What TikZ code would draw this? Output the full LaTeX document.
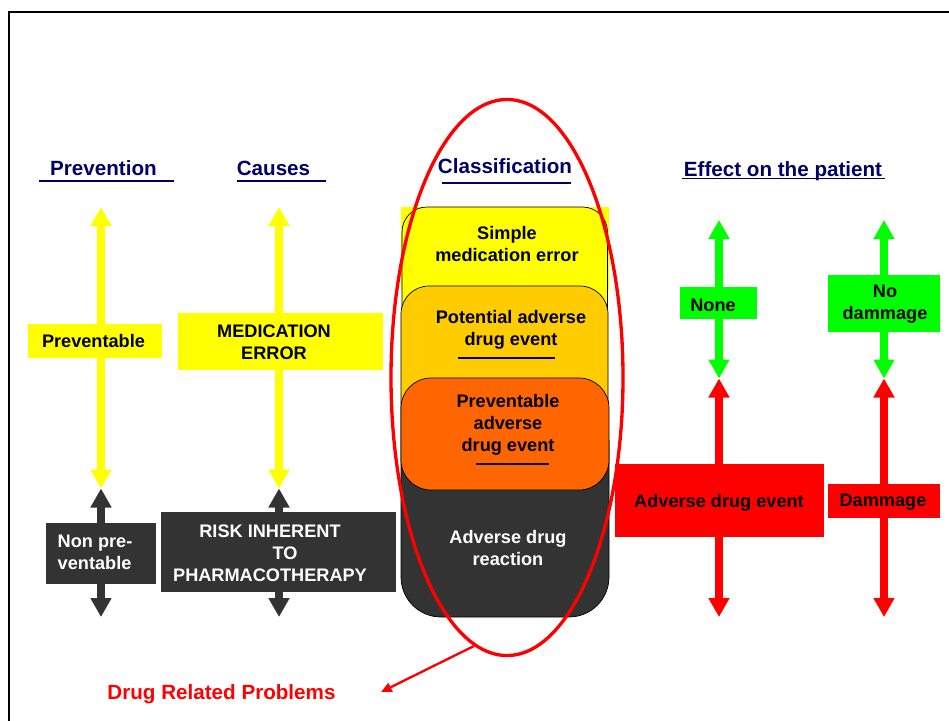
\documentclass[tikz,border=0pt]{standalone}
\usepackage{fontspec}
\setmainfont{Liberation Sans}
\usetikzlibrary{arrows.meta,shapes.geometric}
\definecolor{navy}{RGB}{0,0,102}
\definecolor{drpyellow}{RGB}{255,255,0}
\definecolor{drpgold}{RGB}{255,204,0}
\definecolor{drporange}{RGB}{255,102,0}
\definecolor{drpdark}{RGB}{51,51,51}
\definecolor{drpgreen}{RGB}{0,255,0}
\definecolor{drpred}{RGB}{255,0,0}

\begin{document}
\begin{tikzpicture}[x=0.03cm,y=-0.03cm]
\tikzset{
  body/.style={font=\bfseries\fontsize{15.5}{18.7}\selectfont, inner sep=0pt, align=center},
  header/.style={font=\bfseries\fontsize{17.6}{21}\selectfont, text=navy, inner sep=0pt, anchor=base},
  hbar/.style={draw=navy, line width=0.075cm},
  panel/.style={inner sep=0pt, outer sep=0pt, draw=none},
  dbl/.style={line width=0.24cm, arrows={Triangle[width=6mm,length=5.7mm]-Triangle[width=6mm,length=5.7mm]}},
  stackline/.style={draw=black, line width=0.6pt},
}
\useasboundingbox (0,0) rectangle (949,720);
\clip (0,0) rectangle (949,720);

% page frame
\draw[line width=0.06cm] (9.3,760) -- (9.3,12.3) -- (990,12.3);

% column headers
\node[header] (hPrev) at (103.5,175.5) {Prevention};
\draw[hbar] (39,181) -- (174,181);
\node[header] (hCause) at (273.5,175) {Causes};
\draw[hbar] (237,181) -- (326,181);
\node[header] (hClass) at (505,173.5) {Classification};
\draw[hbar] (442,183) -- (571,183);
\node[header] (hEff) at (783,176) {Effect on the patient};
\draw[navy, line width=0.04cm] (682,178.8) -- (885,178.8);

% arrow end points
\coordinate (pvTop) at (101,207);
\coordinate (pvMid) at (101,488.5);
\coordinate (pvBot) at (101,617);
\coordinate (caTop) at (279,207);
\coordinate (caMid) at (279,488.5);
\coordinate (caBot) at (279,617);
\coordinate (ntTop) at (719,220);
\coordinate (ntMid) at (719,378.5);
\coordinate (ntBot) at (719,617);
\coordinate (ndTop) at (884,220);
\coordinate (ndMid) at (884,378.5);
\coordinate (ndBot) at (884,617);

% double arrows
\draw[dbl, drpyellow] (pvTop) -- (pvMid);
\draw[dbl, drpdark] (pvMid) -- (pvBot);
\draw[dbl, drpyellow] (caTop) -- (caMid);
\draw[dbl, drpdark] (caMid) -- (caBot);
\draw[dbl, drpgreen] (ntTop) -- (ntMid);
\draw[dbl, drpred] (ntMid) -- (ntBot);
\draw[dbl, drpgreen] (ndTop) -- (ndMid);
\draw[dbl, drpred] (ndMid) -- (ndBot);

% label panels on the arrows
\node[panel, fill=drpyellow, minimum width=4.02cm, minimum height=1.02cm] (prevBox) at (95,341) {};
\node[body] (prevTxt) at (93.5,341.5) {Preventable};
\node[panel, fill=drpyellow, minimum width=6.15cm, minimum height=1.71cm] (medBox) at (280.5,341.5) {};
\node[body] (medTxt) at (274,342) {MEDICATION\\ERROR};
\node[panel, fill=drpdark, minimum width=3.3cm, minimum height=1.83cm] (nonBox) at (101,553.5) {};
\node[body, align=left, anchor=west, text=white] (nonTxt) at (57.5,552.5) {Non pre-\\ventable};
\node[panel, fill=drpdark, minimum width=7.05cm, minimum height=2.4cm] (riskBox) at (278.5,552) {};
\node[body, text=white] (riskTxt) at (270,553) {RISK INHERENT\\\hspace*{0.9cm}TO\\PHARMACOTHERAPY};
\node[panel, fill=drpgreen, minimum width=2.31cm, minimum height=0.96cm] (noneBox) at (718.5,303) {};
\node[body] (noneTxt) at (713,305) {None};
\node[panel, fill=drpgreen, minimum width=3.36cm, minimum height=1.71cm] (nodamBox) at (884,303.5) {};
\node[body] (nodamTxt) at (885,304.5) {No\\dammage};
\node[panel, fill=drpred, minimum width=6.27cm, minimum height=2.19cm] (adeBox) at (719.5,500.5) {};
\node[body] (adeTxt) at (719,503) {Adverse drug event};
\node[panel, fill=drpred, minimum width=3.36cm, minimum height=1.02cm] (damBox) at (884,501) {};
\node[body] (damTxt) at (883,502) {Dammage};

% classification stack
\fill[drpyellow] (401,207) rectangle (609,290);
\path[fill=drpyellow, stackline, rounded corners=0.75cm] (402,320) -- (402,207) -- (607.5,207) -- (607.5,320);
\path[fill=drpgold, stackline, rounded corners=0.84cm] (401,440) -- (401,286) -- (608,286) -- (608,440);
\path[fill=drpdark, stackline, rounded corners=1.2cm] (401,440) -- (401,617) -- (609,617) -- (609,440);
\path[fill=drporange, stackline, rounded corners=0.9cm] (401,378) rectangle (609,490);

\node[body] (simpleTxt) at (507,244) {Simple\\medication error};
\node[body] (potTxt) at (511,330) {Potential adverse\\drug event};
\draw[line width=0.06cm] (458,358) -- (555,358);
\node[body] (pvadeTxt) at (508,425) {Preventable\\adverse\\drug event};
\draw[line width=0.06cm] (476,464) -- (549,464);
\node[body, text=white] (adrTxt) at (508,548) {Adverse drug\\reaction};

% drug related problems
\node[draw=drpred, line width=0.1cm, ellipse, inner sep=0pt, minimum width=6.96cm, minimum height=16.68cm] (drp) at (507,377.5) {};
\node[header, text=drpred] (drpTxt) at (221.5,699) {Drug Related Problems};
\coordinate (drpTip) at (381,692);
\draw[drpred, line width=0.07cm, -{Triangle[width=2.8mm,length=3.2mm]}] (drp.-97) -- (drpTip);
\end{tikzpicture}
\end{document}
